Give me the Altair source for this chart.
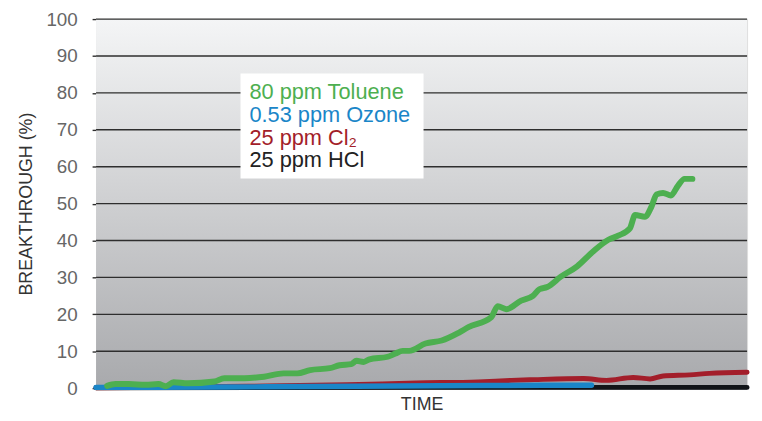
import altair as alt
import pandas as pd

# ---- data ----
tol_t = [1.7, 3.0, 5.0, 7.6, 9.6, 10.7, 11.9, 14.1, 18.2, 19.7, 22.8, 25.8, 28.8, 30.9,
         32.9, 35.9, 37.4, 39.2, 40.0, 41.1, 42.0, 44.8, 46.0, 47.1, 48.1, 50.6, 53.1,
         55.7, 57.2, 60.7, 61.7, 63.0, 65.3, 67.1, 68.1, 69.3, 71.4, 73.9, 76.4, 78.7,
         80.2, 82.0, 82.8, 84.3, 85.3, 86.1, 87.1, 88.3, 89.4, 90.4, 91.6]
tol_v = [0.6, 1.1, 1.1, 0.9, 1.1, 0.5, 1.6, 1.3, 1.8, 2.7, 2.7, 3.1, 4.0, 4.0,
         4.9, 5.4, 6.2, 6.5, 7.4, 7.1, 7.8, 8.5, 9.4, 10.1, 10.1, 12.1, 12.9,
         15.0, 16.5, 19.2, 22.2, 21.4, 23.7, 25.0, 26.8, 27.4, 30.2, 33.0, 37.1, 40.2,
         41.3, 43.3, 46.9, 46.4, 49.1, 52.5, 52.9, 52.2, 54.9, 56.7, 56.7]

cl2_t = [0, 23.3, 38.6, 49.2, 58.7, 63.8, 67.3, 74.9, 78.4, 82.5, 85.1, 87.1, 91.2, 94.2, 100]
cl2_v = [0.1, 0.5, 0.9, 1.4, 1.7, 2.1, 2.3, 2.6, 2.1, 2.9, 2.5, 3.3, 3.6, 4.0, 4.3]

oz_t = [0, 20, 40, 60, 76.1]
oz_v = [0.2, 0.3, 0.5, 0.7, 0.8]

hcl_t = [0, 50, 100]
hcl_v = [0.1, 0.2, 0.2]

series_names = ["80 ppm Toluene", "0.53 ppm Ozone", "25 ppm Cl\u2082", "25 ppm HCl"]
series_colors = ["#4daf50", "#1a86c8", "#a31e2a", "#111418"]
y_ticks = [0, 10, 20, 30, 40, 50, 60, 70, 80, 90, 100]

W, H = 658, 373
FONT = "Liberation Sans"

def frame(t, v):
    return pd.DataFrame({"t": t, "v": v})

xs = alt.Scale(domain=[0, 100], nice=False, zero=False)
ys = alt.Scale(domain=[0, 100], nice=False)

x_axis = alt.Axis(labels=False, ticks=False, domain=False, grid=False,
                  titleFontSize=18, titleFont=FONT, titleColor="#333",
                  titleFontWeight="normal", titlePadding=8)
y_axis = alt.Axis(values=y_ticks, grid=False, labelOverlap=False, tickCount=11,
                  ticks=True, tickSize=4, tickColor="#2e2e2e", tickWidth=1.4,
                  domain=False, labelFontSize=19, labelFont=FONT,
                  labelColor="#666", labelPadding=15,
                  titleFontSize=18, titleFont=FONT, titleColor="#333",
                  titleFontWeight="normal", titlePadding=11)

bg = alt.Chart(pd.DataFrame({"a": [0]})).mark_rect(
    color=alt.LinearGradient(
        gradient="linear", x1=0, y1=0, x2=0, y2=1,
        stops=[alt.GradientStop(color="#f4f5f6", offset=0),
               alt.GradientStop(color="#a8a9ac", offset=1)]
    )
).encode(x=alt.value(0), x2=alt.value(W), y=alt.value(0), y2=alt.value(H + 2))

grid = alt.Chart(pd.DataFrame({"g": y_ticks})).mark_rule(
    color="#2e2e2e", strokeWidth=1.4
).encode(y=alt.Y("g:Q", scale=ys, axis=y_axis, title="BREAKTHROUGH (%)"),
         x=alt.value(0), x2=alt.value(W))

def line(t, v, color, width):
    return alt.Chart(frame(t, v)).mark_line(
        color=color, strokeWidth=width, strokeCap="round", strokeJoin="round",
        interpolate="monotone"
    ).encode(x=alt.X("t:Q", scale=xs, title="TIME", axis=x_axis),
             y=alt.Y("v:Q", scale=ys, title="BREAKTHROUGH (%)", axis=y_axis))

hcl = line(hcl_t, hcl_v, series_colors[3], 5)
cl2 = line(cl2_t, cl2_v, series_colors[2], 5)
oz = line(oz_t, oz_v, series_colors[1], 5.5)
tol = line(tol_t, tol_v, series_colors[0], 6)

legend_df = pd.DataFrame({"name": series_names, "color": series_colors})
box = alt.Chart(pd.DataFrame({"a": [0]})).mark_rect(color="white").encode(
    x=alt.value(146), x2=alt.value(331), y=alt.value(55), y2=alt.value(161))
legend_texts = []
for i, (name, col) in enumerate(zip(series_names, series_colors)):
    legend_texts.append(
        alt.Chart(legend_df.iloc[[i]]).mark_text(
            align="left", baseline="middle", fontSize=22, font=FONT,
            color=col if i < 3 else "#222"
        ).encode(text="name:N", x=alt.value(155), y=alt.value(74 + 23 * i))
    )

chart = alt.layer(bg, grid, hcl, cl2, oz, tol, box, *legend_texts).properties(
    width=W, height=H,
    autosize=alt.AutoSizeParams(type="none"),
    padding={"left": 89, "top": 9, "right": 7, "bottom": 30},
).configure_view(stroke=None).configure(background="white")

chart.save("out.html", embed_options={"renderer": "svg", "actions": False})
